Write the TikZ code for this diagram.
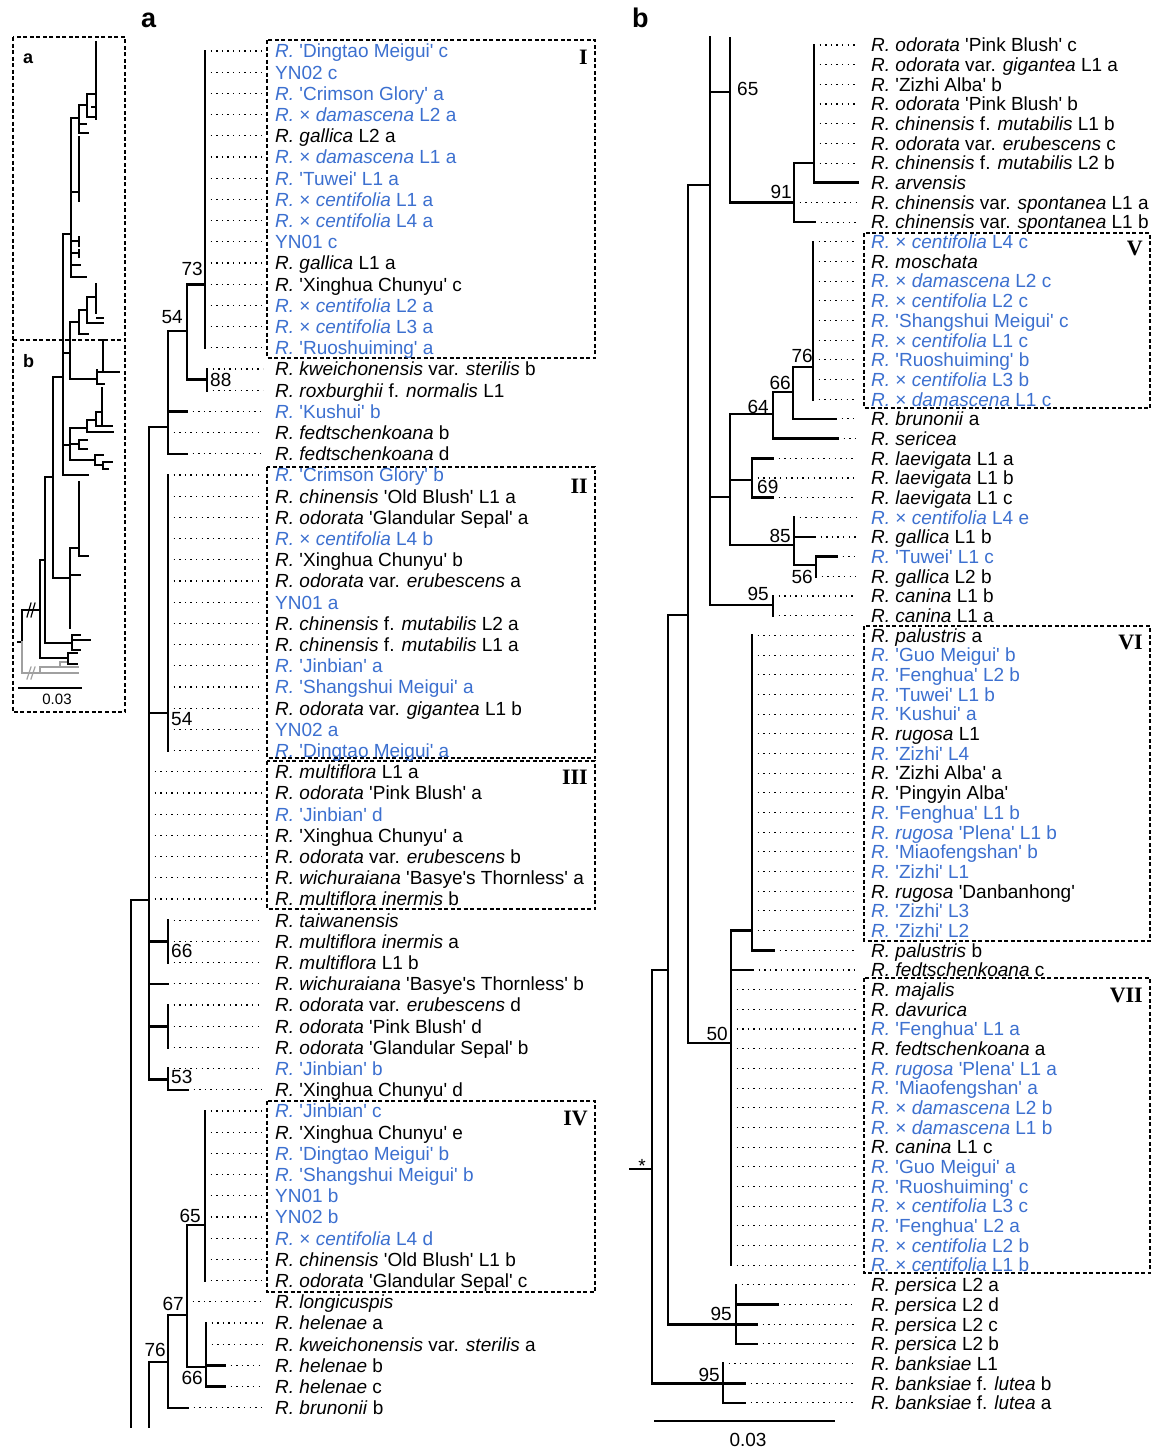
\documentclass[tikz,border=0pt]{standalone}
\usepackage{fontspec}
\newfontfamily\labf{Liberation Sans}
\newfontfamily\romf{Liberation Serif}
\definecolor{rblue}{RGB}{60,112,208}
\definecolor{ogray}{RGB}{160,160,160}
\newcommand\ya[1]{51+(#1-1)*21.2}
\newcommand\yb[1]{45+(#1-1)*19.68}
\newcommand\leafa[4]{\node[lab,text=#3] (a#1) at (275,{\ya{#1}}) {#4};\draw[leader] (#2,{\ya{#1}}) -- ([xshift=-12pt]a#1.west);}
\newcommand\leafb[4]{\node[lab,text=#3] (b#1) at (871,{\yb{#1}}) {#4};\draw[leader] (#2,{\yb{#1}}) -- ([xshift=-15pt]b#1.west);}
\newcommand\leafbn[3]{\node[lab,text=#2] (b#1) at (871,{\yb{#1}}) {#3};}
\tikzset{
 tree/.style={line width=2.6pt, line cap=rect, line join=miter},
 leader/.style={line width=1.1pt, dash pattern=on 1.4pt off 4.2pt},
 lab/.style={anchor=west, inner sep=0pt, text height=13.6pt, text depth=0pt, font=\labf\fontsize{19}{22}\selectfont},
 bs/.style={inner sep=0pt, text height=13.6pt, text depth=0pt, font=\labf\fontsize{19}{22}\selectfont},
 cladebox/.style={line width=1.1pt, dash pattern=on 4pt off 2.5pt},
 roman/.style={anchor=east, inner sep=0pt, text height=14.6pt, text depth=0pt, font=\romf\bfseries\fontsize{22}{24}\selectfont},
 mini/.style={line width=1.7pt, line cap=rect},
 panel/.style={anchor=base west, inner sep=0pt, font=\labf\bfseries\fontsize{27}{30}\selectfont},
 minipanel/.style={anchor=base west, inner sep=0pt, font=\labf\bfseries\fontsize{18}{20}\selectfont},
}
\begin{document}
\begin{tikzpicture}[x=1pt,y=-1pt]
\useasboundingbox (0,0) rectangle (1157,1449);
\fill[white] (0,0) rectangle (1157,1449);

% ---------------- inset ----------------
\draw[cladebox] (13,37) rectangle (125,712);
\draw[cladebox] (13,340) -- (125,340);
\node[minipanel] (ia) at (23,63) {a};
\node[minipanel] (ib) at (23,367) {b};
\begin{scope}[mini]
 \draw (96,42)--(96,119);
 \draw (96,94)--(87,94)--(87,117)--(96,117);
 \draw (92,107)--(96,107);
 \draw (87,105)--(79,105)--(79,133)--(88,133);
 \draw (79,124)--(86,124);
 \draw (79,118)--(71,118)--(71,277)--(86,277);
 \draw (71,192)--(79,192);
 \draw (79,137)--(79,201);
 \draw (71,241)--(79,241); \draw (79,237)--(79,246);
 \draw (71,253)--(79,253); \draw (79,250)--(79,257);
 \draw (71,265)--(80,265);
 \draw (71,234)--(63,234)--(63,475)--(88,475);
 \draw (96,284)--(96,313);
 \draw (96,297)--(87,297)--(87,323)--(103,323);
 \draw (97,318)--(103,318);
 \draw (87,310)--(79,310)--(79,334)--(88,334);
 \draw (79,322)--(70,322)--(70,379)--(97,379);
 \draw (63,353)--(70,353);
 \draw (97,370)--(97,384)--(104,384);
 \draw (97,372)--(119,372);
 \draw (103,340)--(103,372);
 \draw (63,445)--(70,445);
 \draw (70,428)--(70,460);
 \draw (70,428)--(87,428);
 \draw (87,420)--(87,432)--(113,432);
 \draw (87,420)--(96,420);
 \draw (96,412)--(96,426)--(112,426);
 \draw (96,412)--(102,412);
 \draw (102,388)--(102,425);
 \draw (70,444)--(79,444); \draw (79,440)--(79,449);
 \draw (79,440)--(87,440); \draw (79,449)--(87,449);
 \draw (70,460)--(95,460); \draw (95,455)--(95,465);
 \draw (95,455)--(103,455); \draw (95,465)--(103,465);
 \draw (103,462)--(103,469); \draw (103,462)--(112,462); \draw (103,469)--(108,469);
 \draw (63,377)--(53,377)--(53,578)--(70,578);
 \draw (53,477)--(45,477)--(45,643)--(72,643);
 \draw (72,635)--(72,650); \draw (72,635)--(80,635); \draw (72,640)--(90,640); \draw (72,650)--(80,650);
 \draw (70,548)--(70,628);
 \draw (70,548)--(79,548);
 \draw (79,482)--(79,556)--(88,556);
 \draw (70,575)--(80,575);
 \draw (45,560)--(40,560)--(40,658)--(68,658);
 \draw (68,653)--(68,664); \draw (68,653)--(77,653); \draw (68,664)--(77,664);
 \draw (40,610)--(22,610)--(22,642)--(18,642);
 \draw[line width=1.2pt] (27,617)--(31,603) (31,617)--(35,603);
 \draw[ogray] (22,642)--(22,673)--(78,673);
 \draw[ogray] (40,673)--(40,667)--(78,667);
 \draw[ogray] (60,667)--(60,662)--(66,662);
 \draw[ogray,line width=1.2pt] (27,679)--(31,667) (31,679)--(35,667);
\end{scope}
\draw[line width=1.6pt] (18,688)--(82,688);
\node[inner sep=0pt, font=\labf\fontsize{15}{17}\selectfont] (isc) at (57,699) {0.03};

% ---------------- panel a ----------------
\node[panel] (pa) at (141,27) {a};
\draw[cladebox] (267,40) rectangle (595,358);
\draw[cladebox] (267,467) rectangle (595,758);
\draw[cladebox] (267,761) rectangle (595,909);
\draw[cladebox] (267,1101) rectangle (595,1292);
\node[roman] (r1) at (588,57) {I};
\node[roman] (r2) at (588,486) {II};
\node[roman] (r3) at (588,777) {III};
\node[roman] (r4) at (588,1118) {IV};

\draw[tree] (205,{\ya{1}}) -- (205,{\ya{15}});
\draw[tree] (205,{\ya{12}}) -- (187,{\ya{12}}) -- (187,379.6) -- (207,379.6);
\draw[tree] (207,{\ya{16}}) -- (207,{\ya{17}});
\draw[tree] (187,331) -- (168,331) -- (168,{\ya{20}}) -- (187,{\ya{20}});
\draw[tree] (168,{\ya{18}}) -- (187,{\ya{18}});
\draw[tree] (168,427) -- (149,427) -- (149,1079.2) -- (168,1079.2);
\draw[tree] (168,{\ya{21}}) -- (168,{\ya{34}});
\draw[tree] (149,713) -- (168,713);
\draw[tree] (149,900) -- (131,900) -- (131,1427);
\draw[tree] (168,{\ya{42}}) -- (168,{\ya{44}});
\draw[tree] (149,{\ya{43}}) -- (168,{\ya{43}});
\draw[tree] (149,{\ya{45}}) -- (168,{\ya{45}});
\draw[tree] (168,{\ya{46}}) -- (168,{\ya{48}});
\draw[tree] (149,{\ya{47}}) -- (168,{\ya{47}});
\draw[tree] (168,{\ya{49}}) -- (168,{\ya{50}}) -- (188,{\ya{50}});
\draw[tree] (205,{\ya{51}}) -- (205,{\ya{59}});
\draw[tree] (205,1225) -- (187,1225) -- (187,1367) -- (206,1367);
\draw[tree] (187,1315) -- (168,1315) -- (168,{\ya{65}}) -- (188,{\ya{65}});
\draw[tree] (206,{\ya{61}}) -- (206,{\ya{64}}) -- (225,{\ya{64}});
\draw[tree] (206,{\ya{63}}) -- (225,{\ya{63}});
\draw[tree] (168,1362) -- (149,1362) -- (149,1427);

\node[bs,anchor=east] (s73) at (203,268.5) {73};
\node[bs,anchor=west] (s88) at (210,379.5) {88};
\node[bs,anchor=east] (s54a) at (183,316.5) {54};
\node[bs,anchor=west] (s54b) at (171,719) {54};
\node[bs,anchor=west] (s66a) at (171,951) {66};
\node[bs,anchor=west] (s53) at (171,1077) {53};
\node[bs,anchor=east] (s65a) at (201,1216) {65};
\node[bs,anchor=east] (s67) at (184,1303.5) {67};
\node[bs,anchor=east] (s76a) at (166,1350) {76};
\node[bs,anchor=east] (s66b) at (203,1378) {66};

\leafa{1}{205}{rblue}{\textit{R.} 'Dingtao Meigui' c}
\leafa{2}{205}{rblue}{YN02 c}
\leafa{3}{205}{rblue}{\textit{R.} 'Crimson Glory' a}
\leafa{4}{205}{rblue}{\textit{R.} × \textit{damascena} L2 a}
\leafa{5}{205}{black}{\textit{R. gallica} L2 a}
\leafa{6}{205}{rblue}{\textit{R.} × \textit{damascena} L1 a}
\leafa{7}{205}{rblue}{\textit{R.} 'Tuwei' L1 a}
\leafa{8}{205}{rblue}{\textit{R.} × \textit{centifolia} L1 a}
\leafa{9}{205}{rblue}{\textit{R.} × \textit{centifolia} L4 a}
\leafa{10}{205}{rblue}{YN01 c}
\leafa{11}{205}{black}{\textit{R. gallica} L1 a}
\leafa{12}{205}{black}{\textit{R.} 'Xinghua Chunyu' c}
\leafa{13}{205}{rblue}{\textit{R.} × \textit{centifolia} L2 a}
\leafa{14}{205}{rblue}{\textit{R.} × \textit{centifolia} L3 a}
\leafa{15}{205}{rblue}{\textit{R.} 'Ruoshuiming' a}
\leafa{16}{207}{black}{\textit{R. kweichonensis} var. \textit{sterilis} b}
\leafa{17}{207}{black}{\textit{R. roxburghii} f. \textit{normalis} L1}
\leafa{18}{187}{rblue}{\textit{R.} 'Kushui' b}
\leafa{19}{168}{black}{\textit{R. fedtschenkoana} b}
\leafa{20}{187}{black}{\textit{R. fedtschenkoana} d}
\leafa{21}{168}{rblue}{\textit{R.} 'Crimson Glory' b}
\leafa{22}{168}{black}{\textit{R. chinensis} 'Old Blush' L1 a}
\leafa{23}{168}{black}{\textit{R. odorata} 'Glandular Sepal' a}
\leafa{24}{168}{rblue}{\textit{R.} × \textit{centifolia} L4 b}
\leafa{25}{168}{black}{\textit{R.} 'Xinghua Chunyu' b}
\leafa{26}{168}{black}{\textit{R. odorata} var. \textit{erubescens} a}
\leafa{27}{168}{rblue}{YN01 a}
\leafa{28}{168}{black}{\textit{R. chinensis} f. \textit{mutabilis} L2 a}
\leafa{29}{168}{black}{\textit{R. chinensis} f. \textit{mutabilis} L1 a}
\leafa{30}{168}{rblue}{\textit{R.} 'Jinbian' a}
\leafa{31}{168}{rblue}{\textit{R.} 'Shangshui Meigui' a}
\leafa{32}{168}{black}{\textit{R. odorata} var. \textit{gigantea} L1 b}
\leafa{33}{168}{rblue}{YN02 a}
\leafa{34}{168}{rblue}{\textit{R.} 'Dingtao Meigui' a}
\leafa{35}{149}{black}{\textit{R. multiflora} L1 a}
\leafa{36}{149}{black}{\textit{R. odorata} 'Pink Blush' a}
\leafa{37}{149}{rblue}{\textit{R.} 'Jinbian' d}
\leafa{38}{149}{black}{\textit{R.} 'Xinghua Chunyu' a}
\leafa{39}{149}{black}{\textit{R. odorata} var. \textit{erubescens} b}
\leafa{40}{149}{black}{\textit{R. wichuraiana} 'Basye's Thornless' a}
\leafa{41}{149}{black}{\textit{R. multiflora inermis} b}
\leafa{42}{168}{black}{\textit{R. taiwanensis}}
\leafa{43}{168}{black}{\textit{R. multiflora inermis} a}
\leafa{44}{168}{black}{\textit{R. multiflora} L1 b}
\leafa{45}{168}{black}{\textit{R. wichuraiana} 'Basye's Thornless' b}
\leafa{46}{168}{black}{\textit{R. odorata} var. \textit{erubescens} d}
\leafa{47}{168}{black}{\textit{R. odorata} 'Pink Blush' d}
\leafa{48}{168}{black}{\textit{R. odorata} 'Glandular Sepal' b}
\leafa{49}{168}{rblue}{\textit{R.} 'Jinbian' b}
\leafa{50}{188}{black}{\textit{R.} 'Xinghua Chunyu' d}
\leafa{51}{205}{rblue}{\textit{R.} 'Jinbian' c}
\leafa{52}{205}{black}{\textit{R.} 'Xinghua Chunyu' e}
\leafa{53}{205}{rblue}{\textit{R.} 'Dingtao Meigui' b}
\leafa{54}{205}{rblue}{\textit{R.} 'Shangshui Meigui' b}
\leafa{55}{205}{rblue}{YN01 b}
\leafa{56}{205}{rblue}{YN02 b}
\leafa{57}{205}{rblue}{\textit{R.} × \textit{centifolia} L4 d}
\leafa{58}{205}{black}{\textit{R. chinensis} 'Old Blush' L1 b}
\leafa{59}{205}{black}{\textit{R. odorata} 'Glandular Sepal' c}
\leafa{60}{187}{black}{\textit{R. longicuspis}}
\leafa{61}{206}{black}{\textit{R. helenae} a}
\leafa{62}{206}{black}{\textit{R. kweichonensis} var. \textit{sterilis} a}
\leafa{63}{225}{black}{\textit{R. helenae} b}
\leafa{64}{225}{black}{\textit{R. helenae} c}
\leafa{65}{188}{black}{\textit{R. brunonii} b}

% ---------------- panel b ----------------
\node[panel] (pb) at (632,27) {b};
\draw[cladebox] (864,233) rectangle (1150,408);
\draw[cladebox] (864,626) rectangle (1150,941);
\draw[cladebox] (864,978) rectangle (1150,1273);
\node[roman] (r5) at (1143,248) {V};
\node[roman] (r6) at (1143,642) {VI};
\node[roman] (r7) at (1143,995) {VII};

\draw[tree] (710,37) -- (710,605) -- (773,605);
\draw[tree] (773,{\yb{29}}) -- (773,{\yb{30}});
\draw[tree] (730,38) -- (730,{\yb{9}}) -- (794,{\yb{9}});
\draw[tree] (710,92) -- (730,92);
\draw[tree] (794,{\yb{7}}) -- (794,{\yb{10}}) -- (815,{\yb{10}});
\draw[tree] (794,{\yb{7}}) -- (814,{\yb{7}});
\draw[tree] (814,{\yb{1}}) -- (814,{\yb{8}}) -- (858,{\yb{8}});
\draw[tree] (710,185) -- (688,185) -- (688,1043) -- (731,1043);
\draw[tree] (710,497) -- (730,497);
\draw[tree] (730,414) -- (730,545) -- (794,545);
\draw[tree] (730,414) -- (773,414);
\draw[tree] (773,392) -- (773,{\yb{21}}) -- (838,{\yb{21}});
\draw[tree] (773,392) -- (793,392);
\draw[tree] (793,367) -- (793,{\yb{20}}) -- (836,{\yb{20}});
\draw[tree] (793,367) -- (813,367);
\draw[tree] (813,{\yb{11}}) -- (813,{\yb{19}});
\draw[tree] (730,480) -- (752,480);
\draw[tree] (773,{\yb{22}}) -- (752,{\yb{22}}) -- (752,{\yb{24}}) -- (773,{\yb{24}});
\draw[tree] (794,{\yb{25}}) -- (794,565) -- (816,565);
\draw[tree] (794,{\yb{26}}) -- (815,{\yb{26}});
\draw[tree] (816,{\yb{28}}) -- (816,{\yb{27}}) -- (837,{\yb{27}});
\draw[tree] (688,615) -- (668,615) -- (668,{\yb{66}}) -- (757,{\yb{66}});
\draw[tree] (752,{\yb{31}}) -- (752,{\yb{47}}) -- (774,{\yb{47}});
\draw[tree] (731,{\yb{46}}) -- (752,{\yb{46}});
\draw[tree] (731,{\yb{46}}) -- (731,{\yb{63}});
\draw[tree] (731,{\yb{48}}) -- (753,{\yb{48}});
\draw[tree] (668,970) -- (652,970) -- (652,{\yb{69}}) -- (745,{\yb{69}});
\draw[tree] (736,{\yb{64}}) -- (736,{\yb{67}}) -- (757,{\yb{67}});
\draw[tree] (736,{\yb{65}}) -- (778,{\yb{65}});
\draw[tree] (723,{\yb{68}}) -- (723,{\yb{70}}) -- (745,{\yb{70}});
\draw[tree] (630,1169) -- (652,1169);
\draw[line width=2.2pt] (654,1421) -- (835,1421);
\node[bs] (scb) at (748,1440) {0.03};

\node[bs,anchor=west] (s65b) at (737,88.5) {65};
\node[bs,anchor=east] (s91) at (792,191.5) {91};
\node[bs,anchor=east] (s76b) at (813,356) {76};
\node[bs,anchor=east] (s66c) at (791,382.5) {66};
\node[bs,anchor=east] (s64) at (769,406.5) {64};
\node[bs,anchor=west] (s69) at (757,486.5) {69};
\node[bs,anchor=east] (s85) at (791,536) {85};
\node[bs,anchor=east] (s56) at (813,576.5) {56};
\node[bs,anchor=east] (s95a) at (769,594) {95};
\node[bs,anchor=east] (s50) at (728,1033.5) {50};
\node[bs,anchor=east] (s95b) at (732,1313.5) {95};
\node[bs,anchor=east] (s95c) at (720,1375) {95};
\node[bs] (star) at (642,1166) {*};

\leafb{1}{814}{black}{\textit{R. odorata} 'Pink Blush' c}
\leafb{2}{814}{black}{\textit{R. odorata} var. \textit{gigantea} L1 a}
\leafb{3}{814}{black}{\textit{R.} 'Zizhi Alba' b}
\leafb{4}{814}{black}{\textit{R. odorata} 'Pink Blush' b}
\leafb{5}{814}{black}{\textit{R. chinensis} f. \textit{mutabilis} L1 b}
\leafb{6}{814}{black}{\textit{R. odorata} var. \textit{erubescens} c}
\leafb{7}{814}{black}{\textit{R. chinensis} f. \textit{mutabilis} L2 b}
\leafbn{8}{black}{\textit{R. arvensis}}
\leafb{9}{794}{black}{\textit{R. chinensis} var. \textit{spontanea} L1 a}
\leafb{10}{815}{black}{\textit{R. chinensis} var. \textit{spontanea} L1 b}
\leafb{11}{813}{rblue}{\textit{R.} × \textit{centifolia} L4 c}
\leafb{12}{813}{black}{\textit{R. moschata}}
\leafb{13}{813}{rblue}{\textit{R.} × \textit{damascena} L2 c}
\leafb{14}{813}{rblue}{\textit{R.} × \textit{centifolia} L2 c}
\leafb{15}{813}{rblue}{\textit{R.} 'Shangshui Meigui' c}
\leafb{16}{813}{rblue}{\textit{R.} × \textit{centifolia} L1 c}
\leafb{17}{813}{rblue}{\textit{R.} 'Ruoshuiming' b}
\leafb{18}{813}{rblue}{\textit{R.} × \textit{centifolia} L3 b}
\leafb{19}{813}{rblue}{\textit{R.} × \textit{damascena} L1 c}
\leafb{20}{836}{black}{\textit{R. brunonii} a}
\leafb{21}{838}{black}{\textit{R. sericea}}
\leafb{22}{773}{black}{\textit{R. laevigata} L1 a}
\leafb{23}{752}{black}{\textit{R. laevigata} L1 b}
\leafb{24}{773}{black}{\textit{R. laevigata} L1 c}
\leafb{25}{794}{rblue}{\textit{R.} × \textit{centifolia} L4 e}
\leafb{26}{815}{black}{\textit{R. gallica} L1 b}
\leafb{27}{837}{rblue}{\textit{R.} 'Tuwei' L1 c}
\leafb{28}{816}{black}{\textit{R. gallica} L2 b}
\leafb{29}{773}{black}{\textit{R. canina} L1 b}
\leafb{30}{773}{black}{\textit{R. canina} L1 a}
\leafb{31}{752}{black}{\textit{R. palustris} a}
\leafb{32}{752}{rblue}{\textit{R.} 'Guo Meigui' b}
\leafb{33}{752}{rblue}{\textit{R.} 'Fenghua' L2 b}
\leafb{34}{752}{rblue}{\textit{R.} 'Tuwei' L1 b}
\leafb{35}{752}{rblue}{\textit{R.} 'Kushui' a}
\leafb{36}{752}{black}{\textit{R. rugosa} L1}
\leafb{37}{752}{rblue}{\textit{R.} 'Zizhi' L4}
\leafb{38}{752}{black}{\textit{R.} 'Zizhi Alba' a}
\leafb{39}{752}{black}{\textit{R.} 'Pingyin Alba'}
\leafb{40}{752}{rblue}{\textit{R.} 'Fenghua' L1 b}
\leafb{41}{752}{rblue}{\textit{R. rugosa} 'Plena' L1 b}
\leafb{42}{752}{rblue}{\textit{R.} 'Miaofengshan' b}
\leafb{43}{752}{rblue}{\textit{R.} 'Zizhi' L1}
\leafb{44}{752}{black}{\textit{R. rugosa} 'Danbanhong'}
\leafb{45}{752}{rblue}{\textit{R.} 'Zizhi' L3}
\leafb{46}{752}{rblue}{\textit{R.} 'Zizhi' L2}
\leafb{47}{774}{black}{\textit{R. palustris} b}
\leafb{48}{753}{black}{\textit{R. fedtschenkoana} c}
\leafb{49}{731}{black}{\textit{R. majalis}}
\leafb{50}{731}{black}{\textit{R. davurica}}
\leafb{51}{731}{rblue}{\textit{R.} 'Fenghua' L1 a}
\leafb{52}{731}{black}{\textit{R. fedtschenkoana} a}
\leafb{53}{731}{rblue}{\textit{R. rugosa} 'Plena' L1 a}
\leafb{54}{731}{rblue}{\textit{R.} 'Miaofengshan' a}
\leafb{55}{731}{rblue}{\textit{R.} × \textit{damascena} L2 b}
\leafb{56}{731}{rblue}{\textit{R.} × \textit{damascena} L1 b}
\leafb{57}{731}{black}{\textit{R. canina} L1 c}
\leafb{58}{731}{rblue}{\textit{R.} 'Guo Meigui' a}
\leafb{59}{731}{rblue}{\textit{R.} 'Ruoshuiming' c}
\leafb{60}{731}{rblue}{\textit{R.} × \textit{centifolia} L3 c}
\leafb{61}{731}{rblue}{\textit{R.} 'Fenghua' L2 a}
\leafb{62}{731}{rblue}{\textit{R.} × \textit{centifolia} L2 b}
\leafb{63}{731}{rblue}{\textit{R.} × \textit{centifolia} L1 b}
\leafb{64}{736}{black}{\textit{R. persica} L2 a}
\leafb{65}{778}{black}{\textit{R. persica} L2 d}
\leafb{66}{757}{black}{\textit{R. persica} L2 c}
\leafb{67}{757}{black}{\textit{R. persica} L2 b}
\leafb{68}{723}{black}{\textit{R. banksiae} L1}
\leafb{69}{745}{black}{\textit{R. banksiae} f. \textit{lutea} b}
\leafb{70}{745}{black}{\textit{R. banksiae} f. \textit{lutea} a}
\end{tikzpicture}
\end{document}
